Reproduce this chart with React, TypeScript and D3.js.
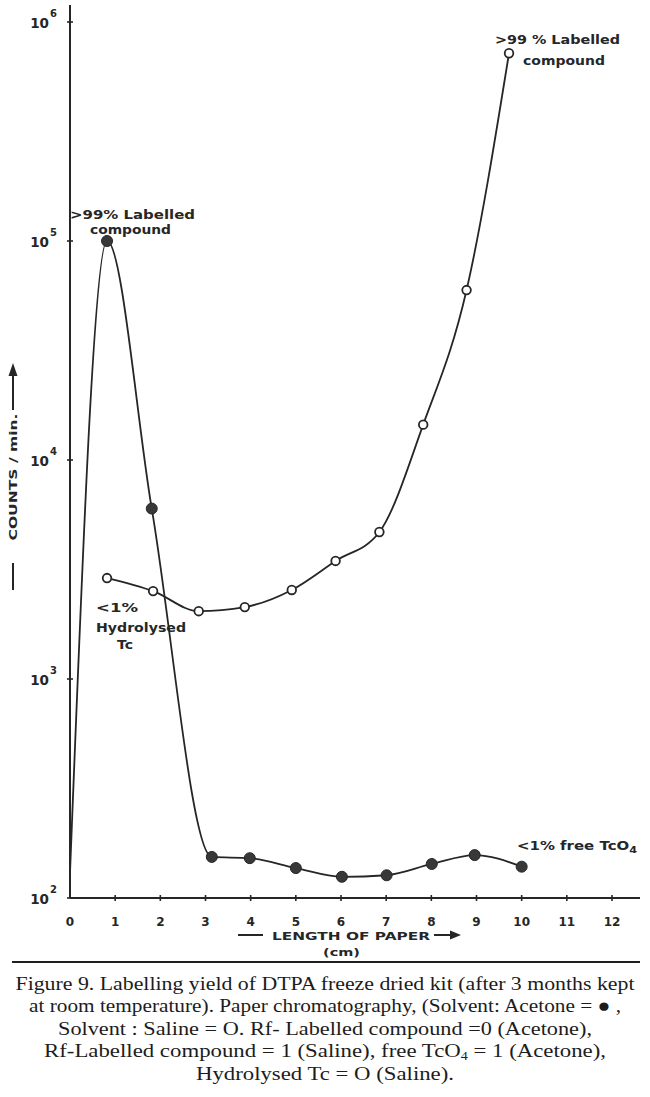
import React from "react";
import * as d3 from "d3";

// ---------- data ----------
const xTicks = [0, 1, 2, 3, 4, 5, 6, 7, 8, 9, 10, 11, 12];
const yTickExponents = [2, 3, 4, 5, 6];

// Solvent: Acetone (filled dots); first point is the curve start at origin (no marker)
const acetoneX = [0, 0.82, 1.81, 3.14, 3.98, 5.0, 6.02, 7.01, 8.01, 8.96, 10.0];
const acetoneCounts = [130, 100000, 6000, 154, 152, 137, 125, 127, 143, 157, 139];
const acetoneFirstMarker = 1;

// Solvent: Saline (open dots)
const salineX = [0.82, 1.84, 2.85, 3.87, 4.91, 5.88, 6.85, 7.82, 8.78, 9.72];
const salineCounts = [2890, 2520, 2040, 2130, 2550, 3460, 4690, 14500, 59700, 720000];

const captionLines = [
  "Figure 9. Labelling yield of DTPA freeze dried kit (after 3 months kept",
  "at room temperature). Paper chromatography, (Solvent: Acetone = \u25CF ,",
  "Solvent : Saline = O. Rf- Labelled compound =0 (Acetone),",
  "Rf-Labelled compound = 1 (Saline), free TcO| = 1 (Acetone),",
  "Hydrolysed Tc = O (Saline).",
];
const captionWidths = [619, 592, 534, 562, 258];

const INK = "#262626";
const LABEL_FONT = "'DejaVu Sans', Verdana, sans-serif";

function renderWithSub(s: string, subSize: number) {
  // "|" marks a subscript 4 after TcO
  const parts = s.split("|");
  if (parts.length === 1) return s;
  return (
    <>
      {parts[0]}
      <tspan fontSize={subSize} dy={3}>4</tspan>
      <tspan dy={-3}>{parts[1]}</tspan>
    </>
  );
}

export default function App() {
  const W = 650;
  const H = 1097;
  const x = d3.scaleLinear().domain([0, 12]).range([70, 612]);
  const y = d3.scaleLog().domain([100, 1e6]).range([898, 22]);
  const x0 = x(0);
  const yBase = y(100);

  const acetonePts: [number, number][] = acetoneX.map((v, i) => [x(v), y(acetoneCounts[i])]);
  const salinePts: [number, number][] = salineX.map((v, i) => [x(v), y(salineCounts[i])]);

  const acetoneLine = d3.line().curve(d3.curveMonotoneX)(acetonePts) || "";
  const salineLine = d3.line().curve(d3.curveMonotoneX)(salinePts) || "";

  const bold = { fontFamily: LABEL_FONT, fontWeight: 700, fill: INK } as const;

  return (
    <svg
      width={W}
      height={H}
      viewBox={`0 0 ${W} ${H}`}
      style={{ position: "absolute", left: 0, top: 0, background: "#fff" }}
    >
      <rect x={0} y={0} width={W} height={H} fill="#fff" />

      {/* axes */}
      <line x1={x0} x2={x0} y1={yBase} y2={5} stroke={INK} strokeWidth={2} />
      <line x1={x0} x2={640} y1={yBase} y2={yBase} stroke={INK} strokeWidth={2} />

      {/* x ticks */}
      {xTicks.map((t) => (
        <g key={"xt" + t}>
          {t > 0 && (
            <line x1={x(t)} x2={x(t)} y1={yBase - 3} y2={yBase + 3} stroke={INK} strokeWidth={1.6} />
          )}
          <text x={x(t)} y={926} textAnchor="middle" fontSize={12} {...bold}>
            {t}
          </text>
        </g>
      ))}

      {/* y ticks */}
      {yTickExponents.map((e) => {
        const ty = y(Math.pow(10, e));
        return (
          <g key={"yt" + e}>
            <line x1={x0 - 3} x2={x0 + 3} y1={ty} y2={ty} stroke={INK} strokeWidth={1.6} />
            <text x={49} y={ty + 6} textAnchor="end" fontSize={13.5} {...bold}>
              10
            </text>
            <text x={50} y={ty - 5} textAnchor="start" fontSize={10} {...bold}>
              {e}
            </text>
          </g>
        );
      })}

      {/* curves */}
      <path d={acetoneLine} fill="none" stroke={INK} strokeWidth={1.8} />
      <path d={salineLine} fill="none" stroke={INK} strokeWidth={1.8} />

      {/* markers */}
      {acetonePts.slice(acetoneFirstMarker).map(([px, py], i) => (
        <circle key={"a" + i} cx={px} cy={py} r={5.5} fill="#383838" stroke={INK} strokeWidth={1} />
      ))}
      {salinePts.map(([px, py], i) => (
        <circle key={"s" + i} cx={px} cy={py} r={4.3} fill="#fff" stroke={INK} strokeWidth={1.8} />
      ))}

      {/* annotations */}
      <text x={70} y={219} fontSize={13} textLength={125} lengthAdjust="spacingAndGlyphs" {...bold}>
        {">99% Labelled"}
      </text>
      <text x={90} y={234} fontSize={13} textLength={81} lengthAdjust="spacingAndGlyphs" {...bold}>
        compound
      </text>
      <text x={495} y={44} fontSize={13} textLength={125} lengthAdjust="spacingAndGlyphs" {...bold}>
        {">99 % Labelled"}
      </text>
      <text x={523} y={65} fontSize={13} textLength={82} lengthAdjust="spacingAndGlyphs" {...bold}>
        compound
      </text>
      <text x={96} y={612} fontSize={13} textLength={42} lengthAdjust="spacingAndGlyphs" {...bold}>
        {"<1%"}
      </text>
      <text x={96} y={632} fontSize={13} textLength={90} lengthAdjust="spacingAndGlyphs" {...bold}>
        Hydrolysed
      </text>
      <text x={117} y={649} fontSize={13} textLength={16} lengthAdjust="spacingAndGlyphs" {...bold}>
        Tc
      </text>
      <text x={517} y={850} fontSize={12} textLength={120} lengthAdjust="spacingAndGlyphs" {...bold}>
        {"<1% free TcO"}
        <tspan fontSize={9} dy={3}>4</tspan>
      </text>

      {/* x axis title */}
      <line x1={238} x2={263} y1={935} y2={935} stroke={INK} strokeWidth={2} />
      <text x={272} y={939.5} fontSize={11} textLength={158} lengthAdjust="spacingAndGlyphs" {...bold}>
        LENGTH OF PAPER
      </text>
      <line x1={434} x2={454} y1={935} y2={935} stroke={INK} strokeWidth={2} />
      <path d="M450,930.5 L461,935 L450,939.5 Z" fill={INK} />
      <text x={323} y={956} fontSize={11} textLength={37} lengthAdjust="spacingAndGlyphs" {...bold}>
        (cm)
      </text>

      {/* y axis title */}
      <line x1={13} x2={13} y1={563} y2={590} stroke={INK} strokeWidth={2} />
      <text
        transform="translate(17,477) rotate(-90)"
        x={0}
        y={0}
        textAnchor="middle"
        fontSize={11}
        textLength={127}
        lengthAdjust="spacingAndGlyphs"
        {...bold}
      >
        COUNTS / min.
      </text>
      <line x1={13} x2={13} y1={410} y2={372} stroke={INK} strokeWidth={2} />
      <path d="M8.5,376 L13,363 L17.5,376 Z" fill={INK} />

      {/* rule */}
      <line x1={12} x2={640} y1={962} y2={962} stroke="#1e1e1e" strokeWidth={2.2} />

      {/* caption */}
      {captionLines.map((s, i) => (
        <text
          key={"c" + i}
          x={325}
          y={990 + i * 22.4}
          textAnchor="middle"
          fontFamily="'Liberation Serif', 'Times New Roman', serif"
          fontSize={19.5}
          fill="#1c1c1c"
          textLength={captionWidths[i]}
          lengthAdjust="spacingAndGlyphs"
        >
          {renderWithSub(s, 12)}
        </text>
      ))}
    </svg>
  );
}
